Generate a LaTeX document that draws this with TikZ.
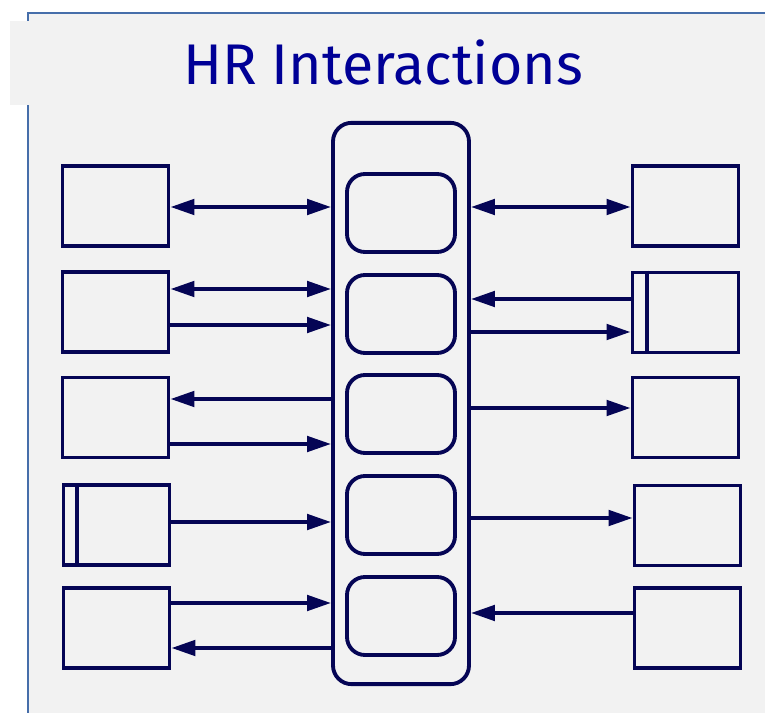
\documentclass[tikz,border=0pt]{standalone}
\usepackage{fontspec}
\usetikzlibrary{arrows.meta}
\newfontfamily\titlefont{Fira Sans}

\definecolor{navy}{RGB}{5,5,85}
\definecolor{titleblue}{RGB}{0,0,150}
\definecolor{frameblue}{RGB}{70,110,170}
\definecolor{panel}{RGB}{242,242,242}

\tikzset{
    unit/.style={draw=navy, line width=2.9pt, minimum width=79.5pt, minimum height=60pt, inner sep=0pt},
    hub/.style={draw=navy, line width=2.9pt, rounded corners=14pt, minimum width=102pt, minimum height=421pt, inner sep=0pt},
    task/.style={draw=navy, line width=2.9pt, rounded corners=13.5pt, minimum width=81pt, minimum height=58.5pt, inner sep=0pt},
    wire/.style={draw=navy, line width=2.9pt}
}

\begin{document}
\begin{tikzpicture}[x=0.75pt, y=-0.75pt, >={Triangle[length=18pt, width=11.5pt]}]
    \useasboundingbox (0,0) rectangle (765,713);

    % panel and title band
    \fill[panel] (28,13) rectangle (765,713);
    \draw[frameblue, line width=1.5pt] (28,713) -- (28,13) -- (765,13);
    \fill[panel] (10,21) rectangle (765,105);
    \node[font=\titlefont\fontsize{43}{50}\selectfont, text=titleblue] (title) at (383,62) {HR Interactions};

    % central module with its five tasks
    \node[hub] (hub) at (401,403.5) {};
    \node[task] (t1) at (401,213) {};
    \node[task] (t2) at (401,314) {};
    \node[task] (t3) at (401,414) {};
    \node[task] (t4) at (401,515) {};
    \node[task] (t5) at (401,616) {};

    % left units
    \node[unit] (l1) at (115.5,206) {};
    \node[unit] (l2) at (115.5,312) {};
    \node[unit] (l3) at (115.5,417.5) {};
    \node[unit] (l4) at (116.5,525) {};
    \node[unit] (l5) at (116.5,628) {};

    % right units
    \node[unit] (r1) at (685.5,206) {};
    \node[unit] (r2) at (685.5,312.5) {};
    \node[unit] (r3) at (685.5,417.5) {};
    \node[unit] (r4) at (687.5,525.5) {};
    \node[unit] (r5) at (687.5,628) {};

    % stores are marked by a strip on the left
    \draw[wire] ([xshift=11.25pt]l4.north west) -- ([xshift=11.25pt]l4.south west);
    \draw[wire] ([xshift=12pt]r2.north west) -- ([xshift=12pt]r2.south west);

    % left side flows
    \draw[wire, <->] (l1.east |- 0,207) -- (hub.west |- 0,207);
    \draw[wire, <->] (l2.east |- 0,289) -- (hub.west |- 0,289);
    \draw[wire, ->] (l2.east |- 0,325) -- (hub.west |- 0,325);
    \draw[wire, ->] (hub.west |- 0,399) -- (l3.east |- 0,399);
    \draw[wire, ->] (l3.east |- 0,444) -- (hub.west |- 0,444);
    \draw[wire, ->] (l4.east |- 0,522) -- (hub.west |- 0,522);
    \draw[wire, ->] (l5.east |- 0,603) -- (hub.west |- 0,603);
    \draw[wire, ->] (hub.west |- 0,648) -- (l5.east |- 0,648);

    % right side flows
    \draw[wire, <->] (hub.east |- 0,207) -- (r1.west |- 0,207);
    \draw[wire, ->] (r2.west |- 0,299) -- (hub.east |- 0,299);
    \draw[wire, ->] (hub.east |- 0,332) -- (r2.west |- 0,332);
    \draw[wire, ->] (hub.east |- 0,408) -- (r3.west |- 0,408);
    \draw[wire, ->] (hub.east |- 0,518) -- (r4.west |- 0,518);
    \draw[wire, ->] (r5.west |- 0,613) -- (hub.east |- 0,613);
\end{tikzpicture}
\end{document}
